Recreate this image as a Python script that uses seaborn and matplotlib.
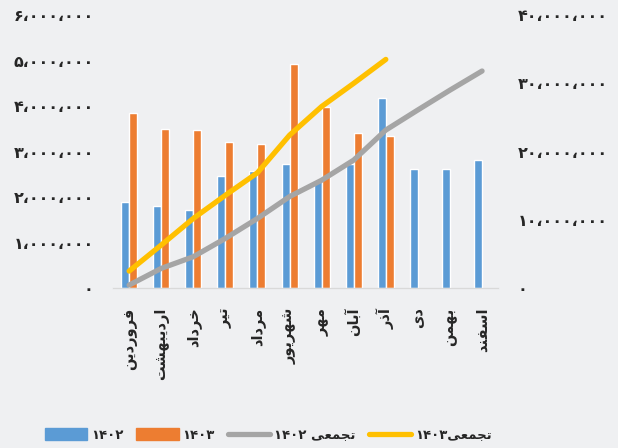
import re
import numpy as np
import matplotlib
matplotlib.use("Agg")
import matplotlib.pyplot as plt
import matplotlib.ticker as mticker
from matplotlib.patches import Patch
from matplotlib.lines import Line2D
import pandas as pd
import seaborn as sns

months = ["فروردین", "اردیبهشت", "خرداد", "تیر", "مرداد", "شهریور",
          "مهر", "آبان", "آذر", "دی", "بهمن", "اسفند"]
sales_1402 = [1.90e6, 1.81e6, 1.71e6, 2.46e6, 2.57e6, 2.72e6,
              2.35e6, 2.72e6, 4.18e6, 2.61e6, 2.61e6, 2.81e6]
sales_1403 = [3.85e6, 3.50e6, 3.47e6, 3.21e6, 3.17e6, 4.92e6,
              3.99e6, 3.40e6, 3.34e6, np.nan, np.nan, np.nan]
cum_1402 = [0.44e6, 2.88e6, 4.59e6, 7.28e6, 10.2e6, 13.4e6,
            15.8e6, 18.75e6, 23.15e6, 26.1e6, 29.0e6, 31.8e6]
cum_1403 = [2.49e6, 6.3e6, 10.2e6, 13.6e6, 16.9e6, 22.4e6,
            26.6e6, 30.0e6, 33.5e6]
series_labels = ["۱۴۰۲", "۱۴۰۳", "تجمعی ۱۴۰۲", "تجمعی۱۴۰۳"]

BLUE, ORANGE, GRAY, YELLOW = "#5B9BD5", "#ED7D31", "#A5A5A5", "#FFC000"
BG = "#EFF0F2"

# minimal arabic shaping (matplotlib has no complex text layout)
# forms: isolated, final, initial, medial
FORMS = {
    "ا": ("\uFE8D", "\uFE8E", None, None),
    "آ": ("\uFE81", "\uFE82", None, None),
    "ب": ("\uFE8F", "\uFE90", "\uFE91", "\uFE92"),
    "ت": ("\uFE95", "\uFE96", "\uFE97", "\uFE98"),
    "ج": ("\uFE9D", "\uFE9E", "\uFE9F", "\uFEA0"),
    "خ": ("\uFEA5", "\uFEA6", "\uFEA7", "\uFEA8"),
    "د": ("\uFEA9", "\uFEAA", None, None),
    "ذ": ("\uFEAB", "\uFEAC", None, None),
    "ر": ("\uFEAD", "\uFEAE", None, None),
    "ز": ("\uFEAF", "\uFEB0", None, None),
    "س": ("\uFEB1", "\uFEB2", "\uFEB3", "\uFEB4"),
    "ش": ("\uFEB5", "\uFEB6", "\uFEB7", "\uFEB8"),
    "ع": ("\uFEC9", "\uFECA", "\uFECB", "\uFECC"),
    "ف": ("\uFED1", "\uFED2", "\uFED3", "\uFED4"),
    "م": ("\uFEE1", "\uFEE2", "\uFEE3", "\uFEE4"),
    "ن": ("\uFEE5", "\uFEE6", "\uFEE7", "\uFEE8"),
    "ه": ("\uFEE9", "\uFEEA", "\uFEEB", "\uFEEC"),
    "و": ("\uFEED", "\uFEEE", None, None),
    "ی": ("\uFEEF", "\uFEF0", "\uFEF3", "\uFEF4"),
}


def rtl(text):
    out = []
    for i, ch in enumerate(text):
        if ch not in FORMS:
            out.append(ch)
            continue
        prev = text[i - 1] if i > 0 else ""
        nxt = text[i + 1] if i + 1 < len(text) else ""
        joins_prev = prev in FORMS and FORMS[prev][2] is not None
        joins_next = FORMS[ch][2] is not None and nxt in FORMS
        iso, fin, ini, med = FORMS[ch]
        if joins_prev and joins_next:
            out.append(med)
        elif joins_prev:
            out.append(fin)
        elif joins_next:
            out.append(ini)
        else:
            out.append(iso)
    vis = "".join(out)[::-1]
    return re.sub("[۰-۹،]+", lambda m: m.group(0)[::-1], vis)


def fa_num(v, pos=None):
    s = f"{int(round(v)):,}"
    s = s.translate(str.maketrans("0123456789", "۰۱۲۳۴۵۶۷۸۹"))
    return s.replace(",", "،")


sns.set_style("white")
plt.rcParams["font.family"] = ["DejaVu Sans"]
plt.rcParams["font.weight"] = "bold"

bars = pd.DataFrame({
    "month": months * 2,
    "value": sales_1402 + sales_1403,
    "year": ["1402"] * 12 + ["1403"] * 12,
})
lines = pd.DataFrame({
    "pos": list(range(12)) + list(range(len(cum_1403))),
    "value": cum_1402 + cum_1403,
    "year": ["1402"] * 12 + ["1403"] * len(cum_1403),
})

fig = plt.figure(figsize=(6.18, 4.48), dpi=100, facecolor=BG)
ax = fig.add_axes([0.183, 0.357, 0.623, 0.6094])
ax.set_facecolor(BG)

sns.barplot(data=bars, x="month", y="value", hue="year", order=months,
            hue_order=["1402", "1403"], palette=[BLUE, ORANGE],
            width=0.5, saturation=1, legend=False, ax=ax)

ax2 = ax.twinx()
sns.lineplot(data=lines, x="pos", y="value", hue="year",
             hue_order=["1402", "1403"], palette=[GRAY, YELLOW],
             linewidth=3.8, legend=False, ax=ax2)
for ln in ax2.lines:
    ln.set_solid_capstyle("round")
    ln.set_solid_joinstyle("round")

ax.set_xlim(-0.5, 11.5)
ax.set_ylim(0, 6e6)
ax2.set_ylim(0, 4e7)
ax.set_yticks(np.arange(0, 6.5e6, 1e6))
ax2.set_yticks(np.arange(0, 4.5e7, 1e7))
ax.yaxis.set_major_formatter(mticker.FuncFormatter(fa_num))
ax2.yaxis.set_major_formatter(mticker.FuncFormatter(fa_num))

ax.set_xticks(range(12), [rtl(m) for m in months], rotation=90,
              fontsize=10.5, fontweight="bold")
ax.set_xticks(np.arange(-0.5, 12, 1), minor=True)
ax.tick_params(axis="x", which="major", length=0, pad=14)
ax.tick_params(axis="x", which="minor", length=4, color="#D9D9D9")
ax.tick_params(axis="y", length=0, pad=14, labelsize=11.5)
ax2.tick_params(axis="y", length=0, pad=14, labelsize=11.5)
for lab in ax.get_xticklabels():
    lab.set_va("top")

ax.set_xlabel("")
ax.set_ylabel("")
ax2.set_xlabel("")
ax2.set_ylabel("")
for a in (ax, ax2):
    for side in ("top", "left", "right"):
        a.spines[side].set_visible(False)
    a.spines["bottom"].set_color("#D9D9D9")

handles = [Patch(color=BLUE), Patch(color=ORANGE),
           Line2D([], [], color=GRAY, lw=3.8, solid_capstyle="round"),
           Line2D([], [], color=YELLOW, lw=3.8, solid_capstyle="round")]
fig.legend(handles, [rtl(s) for s in series_labels], loc="center",
           bbox_to_anchor=(0.434, 0.029), ncol=4, frameon=False,
           fontsize=9.5, handlelength=3.2, handleheight=1.0,
           columnspacing=1.0, handletextpad=0.3)

fig.savefig("out.png", dpi=100, facecolor=BG)
